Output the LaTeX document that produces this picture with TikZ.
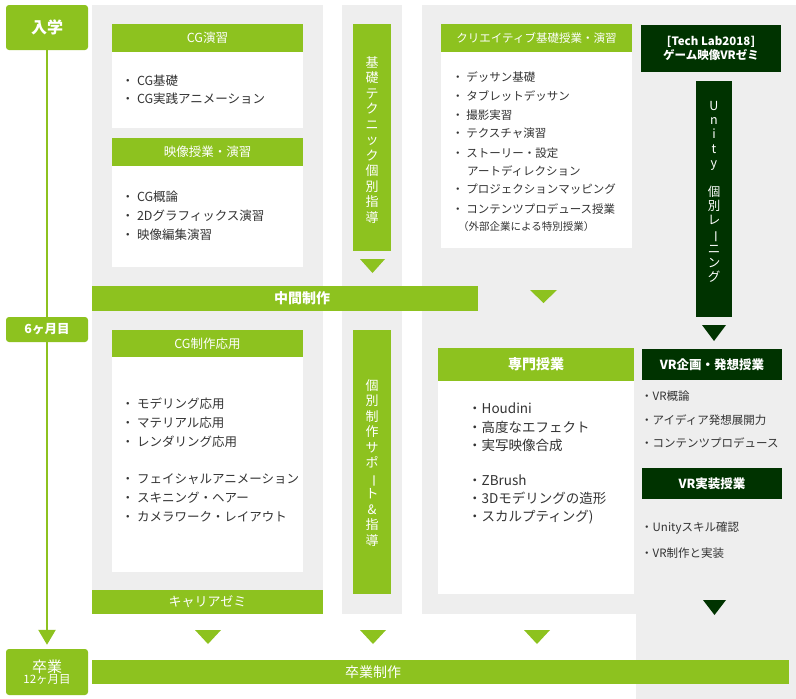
\documentclass[tikz,border=0pt]{standalone}
\usepackage{fontspec}
\setmainfont{Noto Sans CJK JP}
\usepackage{graphicx}
\usetikzlibrary{positioning,arrows.meta}

\definecolor{verde}{RGB}{141,194,31}
\definecolor{scuro}{RGB}{0,51,0}
\definecolor{grigio}{RGB}{238,238,238}

\newcommand{\vbar}{\rotatebox[origin=c]{-90}{ー}}

\begin{document}
\begin{tikzpicture}[x=1pt,y=-1pt]
\tikzstyle{testa} = [fill=verde, text=white, inner sep=0, minimum width=191pt, minimum height=28pt, font=\fontsize{12.5}{14}\selectfont]
\tikzstyle{corpo} = [fill=white, inner sep=0, minimum width=191pt]
\tikzstyle{voce} = [anchor=west, inner sep=0, text=black!80, font=\fontsize{11.5}{13}\selectfont]
\tikzstyle{tappa} = [fill=verde, text=white, rounded corners=3pt, inner sep=0, minimum width=82pt, align=center]
\tikzstyle{barra} = [fill=verde, text=white, inner sep=0, minimum height=24pt, font=\fontsize{13}{15}\selectfont]
\tikzstyle{scatola} = [fill=scuro, text=white, inner sep=0, minimum width=140pt, align=center, font=\bfseries\fontsize{11.5}{14}\selectfont]
\tikzstyle{colonna} = [inner sep=0, minimum width=38pt]

\useasboundingbox (0,0) rectangle (796,699);

% Pannelli grigi
\fill[grigio] (92,5) rectangle (323,614);
\fill[grigio] (342,5) rectangle (402,614);
\fill[grigio] (422,5) rectangle (796,614);
\fill[grigio] (636,614) rectangle (796,699);

% Linea del tempo
\node[tappa, minimum height=45pt, font=\bfseries\fontsize{16}{18}\selectfont] (nyu) at (47,27.5) {入学};
\node[tappa, minimum height=46pt] (sotsu) at (47,672)
  {{\fontsize{15}{16}\selectfont 卒業}\\[-1pt]{\fontsize{11.5}{13}\selectfont 12ヶ月目}};
\draw[verde, line width=2.5pt, -{Triangle[width=17pt,length=15pt]}, shorten >=4pt] (nyu.south) -- (sotsu.north);
\node[tappa, minimum height=25pt, font=\bfseries\fontsize{12.5}{14}\selectfont] (mese6) at (47,329.5) {6ヶ月目};

% --- Colonna 1 ---------------------------------------------
\node[testa] (cg) at (207.5,38) {CG演習};
\node[corpo, minimum height=76pt, below=0pt of cg] (cg-b) {};
\foreach \y/\t in {81/CG基礎, 99/CG実践アニメーション}
  \node[voce, font=\fontsize{12.5}{14}\selectfont] (cg-\y) at (121.5,\y) {・ \t};

\node[testa] (eizo) at (207.5,152) {映像授業・演習};
\node[corpo, minimum height=101pt, below=0pt of eizo] (eizo-b) {};
\foreach \y/\t in {197/CG概論, 216/2Dグラフィックス演習, 235/映像編集演習}
  \node[voce, font=\fontsize{12.5}{14}\selectfont] (eizo-\y) at (121.5,\y) {・ \t};

\node[testa, minimum height=27pt] (oyo) at (207.5,343.5) {CG制作応用};
\node[corpo, minimum height=215pt, below=0pt of oyo] (oyo-b) {};
\foreach \y/\t in {404/モデリング応用, 423/マテリアル応用, 442/レンダリング応用,
                   479/フェイシャルアニメーション, 498/スキニング・ヘアー, 517/カメラワーク・レイアウト}
  \node[voce, font=\fontsize{12.5}{14}\selectfont] (oyo-\y) at (121.5,\y) {・ \t};

\node[barra, minimum width=231pt] (career) at (207.5,602) {キャリアゼミ};

% --- Colonna 2 ---------------------------------------------
\node[colonna, fill=verde, minimum height=227pt] (kiso) at (372,137.5) {};
\node[text=white, inner sep=0, align=center, font=\fontsize{13}{15.5}\selectfont] (kiso-t) at (372,140)
  {基\\礎\\テ\\ク\\ニ\\ッ\\ク\\個\\別\\指\\導};
\fill[verde] (360,259) -- (385,259) -- (372.5,273) -- cycle;

\node[colonna, fill=verde, minimum height=264pt] (kobetsu) at (372,462) {};
\node[text=white, inner sep=0, align=center, font=\fontsize{13}{15.5}\selectfont] (kobetsu-t) at (372,463)
  {個\\別\\制\\作\\サ\\ポ\\\vbar\\ト\\\&\\指\\導};

% --- Colonna 3 ---------------------------------------------
\node[testa, font=\fontsize{11.5}{14}\selectfont] (crea) at (536.5,38) {クリエイティブ基礎授業・演習};
\node[corpo, minimum height=196pt, below=0pt of crea] (crea-b) {};
\foreach \y/\t in {77/デッサン基礎, 96/タブレットデッサン, 115/撮影実習, 133/テクスチャ演習,
                   153/ストーリー・設定, 189/プロジェクションマッピング, 209/コンテンツプロデュース授業}
  \node[voce] (crea-\y) at (452,\y) {・ \t};
\node[voce] (crea-171) at (467,171) {アートディレクション};
\node[voce, font=\fontsize{10.5}{12}\selectfont] (crea-227) at (458,227) {（外部企業による特別授業）};
\fill[verde] (530,290) -- (557,290) -- (543.5,303) -- cycle;

\node[testa, minimum width=196pt, minimum height=33pt, font=\bfseries\fontsize{14}{16}\selectfont] (senmon) at (536,364.5) {専門授業};
\node[corpo, minimum width=196pt, minimum height=213pt, below=0pt of senmon] (senmon-b) {};
\foreach \y/\t in {408/Houdini, 427/高度なエフェクト, 445/実写映像合成,
                   480/ZBrush, 498/3Dモデリングの造形, 517/スカルプティング)}
  \node[voce, font=\fontsize{13.5}{15}\selectfont] (senmon-\y) at (468,\y) {・\t};

% --- Barre orizzontali ---------------------------------------
\node[barra, minimum width=386pt, minimum height=25pt] (chukan) at (285,298.5) {};
\node[text=white, inner sep=0, font=\bfseries\fontsize{14}{16}\selectfont] (chukan-t) at (302,298.5) {中間制作};

\foreach \cx in {208,373,537}
  \fill[verde] (\cx-13,630) -- (\cx+13,630) -- (\cx,644) -- cycle;

\node[barra, minimum width=697pt] (sotsusei) at (440.5,672) {};
\node[text=white, inner sep=0, font=\fontsize{14}{16}\selectfont] (sotsusei-t) at (373,672) {卒業制作};

% --- Colonna VR ----------------------------------------------
\node[scatola, minimum height=47pt] (lab) at (711,48.5) {[Tech Lab2018]\\ゲーム映像VRゼミ};
\node[colonna, fill=scuro, minimum width=36pt, minimum height=236pt] (unity) at (714,199) {};
\node[text=white, inner sep=0, align=center, font=\fontsize{12.5}{14.3}\selectfont] (unity-t) at (714,192)
  {U\\n\\i\\t\\y\\\mbox{}\\個\\別\\レ\\\vbar\\ニ\\ン\\グ};
\fill[scuro] (702,325) -- (726,325) -- (714,341) -- cycle;

\node[scatola, minimum height=31pt, font=\bfseries\fontsize{12.5}{14}\selectfont] (kikaku) at (712,364.5) {VR企画・発想授業};
\foreach \y/\t in {396/VR概論, 420/アイディア発想展開力, 443/コンテンツプロデュース}
  \node[voce] (kikaku-\y) at (641,\y) {・\t};

\node[scatola, minimum height=31pt, font=\bfseries\fontsize{12.5}{14}\selectfont] (jisso) at (712,483.5) {VR実装授業};
\foreach \y/\t in {528/Unityスキル確認, 553/VR制作と実装}
  \node[voce] (jisso-\y) at (641,\y) {・\t};
\fill[scuro] (703,600) -- (726,600) -- (714.5,615) -- cycle;

\end{tikzpicture}
\end{document}
